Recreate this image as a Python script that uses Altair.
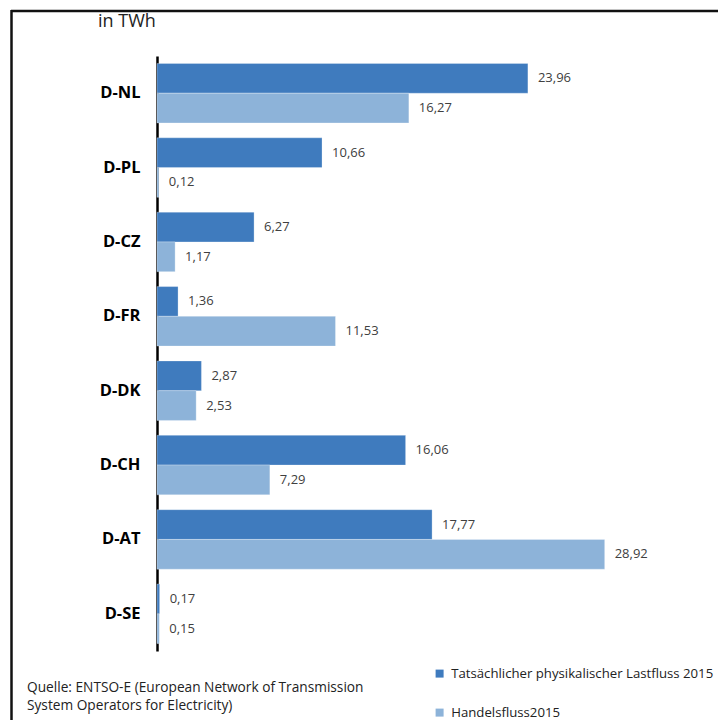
import altair as alt
import pandas as pd

categories = ["D-NL", "D-PL", "D-CZ", "D-FR", "D-DK", "D-CH", "D-AT", "D-SE"]
series_names = ["Tatsächlicher physikalischer Lastfluss 2015", "Handelsfluss2015"]
physical = [23.96, 10.66, 6.27, 1.36, 2.87, 16.06, 17.77, 0.17]
trade = [16.27, 0.12, 1.17, 11.53, 2.53, 7.29, 28.92, 0.15]
colors = ["#3F7BBE", "#8DB3D9"]
unit_label = "in TWh"
source_line_1 = "Quelle: ENTSO-E (European Network of Transmission"
source_line_2 = "System Operators for Electricity)"

rows = []
for i, c in enumerate(categories):
    rows.append({"cat": c, "series": series_names[0], "value": physical[i]})
    rows.append({"cat": c, "series": series_names[1], "value": trade[i]})
df = pd.DataFrame(rows)

FONT = "Open Sans"
L, T = 157, 56
W, H = 500, 595
XMAX = W / 15.48

ys = alt.Y("cat:N", sort=categories,
           scale=alt.Scale(paddingInner=0.2, paddingOuter=0.1),
           axis=alt.Axis(title=None, ticks=False, labelFontWeight="bold", labelFontSize=16.5,
                         labelFont=FONT, labelColor="#000000", labelPadding=17,
                         domainColor="#000000", domainWidth=2.5))
xs = alt.X("value:Q", scale=alt.Scale(domain=[0, XMAX], nice=False, zero=True), axis=None)
yoff = alt.YOffset("series:N", sort=series_names, scale=alt.Scale(paddingInner=0, paddingOuter=0))

base = alt.Chart(df)

bars = base.mark_bar(stroke="#ffffff", strokeOpacity=0.35, strokeWidth=0.8).encode(
    y=ys, x=xs, yOffset=yoff,
    color=alt.Color("series:N", sort=series_names,
                    scale=alt.Scale(domain=series_names, range=colors),
                    legend=alt.Legend(title=None, orient="none", legendX=437 - L - 4, legendY=667 - T,
                                      direction="vertical", symbolType="square", symbolSize=64,
                                      symbolStrokeWidth=0, labelFont=FONT, labelFontSize=13.2,
                                      labelColor="#222222", rowPadding=25, labelOffset=5,
                                      labelLimit=400)),
)

labels = base.transform_calculate(
    lbl="replace(format(datum.value, '.2f'), '.', ',')"
).mark_text(align="left", baseline="middle", dx=10, font=FONT, fontSize=13, color="#404040").encode(
    y=ys, x=xs, yOffset=yoff, text="lbl:N")

def free_text(txt, x, y, size):
    return alt.Chart(pd.DataFrame({"t": [txt]})).mark_text(
        align="left", baseline="middle", font=FONT, fontSize=size, color="#222222"
    ).encode(x=alt.value(x - L), y=alt.value(y - T), text="t:N")

unit = free_text(unit_label, 98, 22, 18)
src1 = free_text(source_line_1, 27, 688, 13.7)
src2 = free_text(source_line_2, 27, 706, 13.7)

one = pd.DataFrame({"t": [unit_label]})
frame_top = alt.Chart(one).mark_rule(color="#111111", strokeWidth=2.5).encode(
    x=alt.value(11 - L), x2=alt.value(718 - L), y=alt.value(11 - T))
frame_left = alt.Chart(one).mark_rule(color="#111111", strokeWidth=2.5).encode(
    x=alt.value(11.5 - L), y=alt.value(10 - T), y2=alt.value(720 - T))

chart = alt.layer(bars, labels, unit, src1, src2, frame_top, frame_left).properties(
    width=W, height=H,
    autosize=alt.AutoSizeParams(type="none"),
    padding={"left": L, "top": T, "right": 718 - L - W, "bottom": 720 - T - H},
).configure_view(stroke=None)

chart.save("out.html", embed_options={"renderer": "svg", "actions": False})
